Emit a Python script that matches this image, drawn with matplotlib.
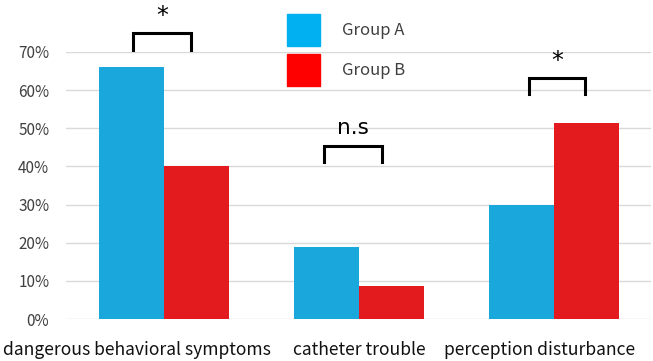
import matplotlib
matplotlib.use('Agg')
import matplotlib.pyplot as plt
import matplotlib.transforms as mtransforms
from matplotlib.patches import Patch
import numpy as np

plt.rcParams['font.family'] = ['Noto Sans CJK JP', 'DejaVu Sans']

categories = ['dangerous behavioral symptoms', 'catheter trouble', 'perception disturbance']
group_a = [0.66, 0.19, 0.30]
group_b = [0.40, 0.087, 0.515]
signif = ['*', 'n.s', '*']
yticks = [0, 0.1, 0.2, 0.3, 0.4, 0.5, 0.6, 0.7]

fig = plt.figure(figsize=(6.53, 3.61), dpi=100)
ax = fig.add_axes([0.101, 0.1163, 0.896, 0.7397])

x = np.arange(len(categories))
w = 0.333
ax.bar(x - w/2, group_a, w, color='#1AA7DB', zorder=3)
ax.bar(x + w/2, group_b, w, color='#E31B1F', zorder=3)

ax.set_xlim(-0.503, 2.497)
ax.set_ylim(0, 0.7)
ax.set_yticks(yticks)
ax.set_yticklabels(['%d%%' % round(v*100) for v in yticks], fontsize=11, color='#404040')
ax.set_xticks(x)
ax.set_xticklabels(categories, fontsize=12.6, color='#111111')
ax.tick_params(length=0)
ax.tick_params(axis='y', pad=12)
ax.tick_params(axis='x', pad=16)
ax.grid(axis='y', color='#D9D9D9', lw=1, zorder=0)
for s in ax.spines.values():
    s.set_visible(False)

# category labels in the original are nudged left of their bars
shifts = [-27, 0, -15]
for lab, dx in zip(ax.get_xticklabels(), shifts):
    lab.set_transform(lab.get_transform() + mtransforms.ScaledTranslation(dx/100, 0, fig.dpi_scale_trans))

# brackets (x offsets from category centre, bottom / top heights)
br_x = [(-0.16, 0.14), (-0.18, 0.12), (-0.13, 0.16)]
br_y = [(0.706, 0.751), (0.412, 0.454), (0.591, 0.633)]
for i, lab in enumerate(signif):
    x0, x1 = i + br_x[i][0], i + br_x[i][1]
    y0, y1 = br_y[i]
    ax.plot([x0, x0, x1, x1], [y0, y1, y1, y0], color='black', lw=2.2,
            clip_on=False, zorder=4, solid_joinstyle='miter')
    if lab == '*':
        ax.text((x0 + x1)/2, y1 + 0.012, lab, ha='center', va='bottom',
                fontsize=17, clip_on=False, family='DejaVu Sans')
    else:
        ax.text((x0 + x1)/2, y1 + 0.02, lab, ha='center', va='bottom',
                fontsize=15.5, clip_on=False, family='DejaVu Sans')

handles = [Patch(color='#00B0F0'), Patch(color='#FF0000')]
fig.legend(handles, ['Group A', 'Group B'], loc='upper left',
           bbox_to_anchor=(0.427, 0.984), frameon=False, fontsize=12,
           handlelength=2.0, handleheight=2.6, labelspacing=0.45,
           handletextpad=1.3, borderpad=0, labelcolor='#404040')

fig.savefig('out.png', dpi=100)
